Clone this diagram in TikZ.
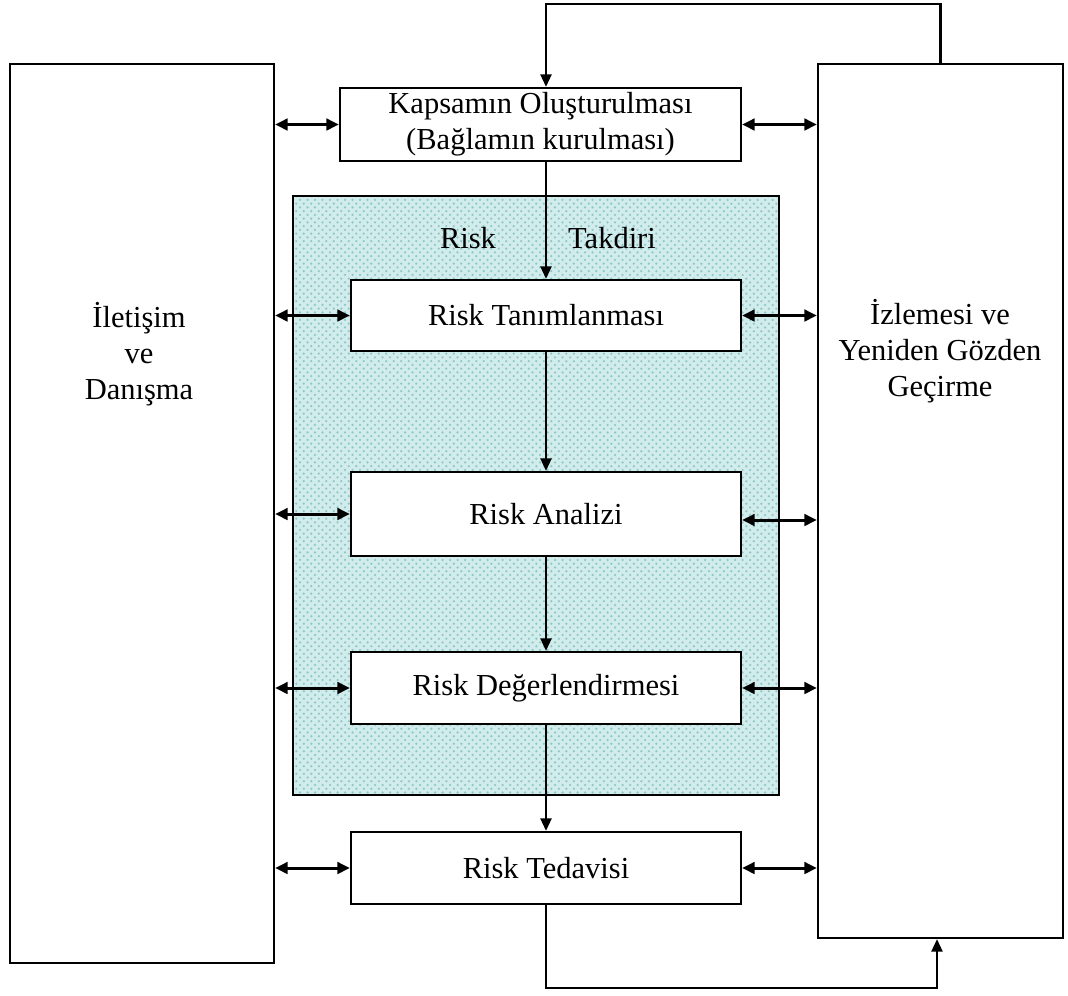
\documentclass[tikz,border=0pt]{standalone}
\usepackage{fontspec}
\setmainfont{Liberation Serif}
\usetikzlibrary{arrows.meta}
\usetikzlibrary{patterns}
\definecolor{takdirrenk}{RGB}{210,236,236}
\definecolor{takdirdesen}{RGB}{140,200,200}

\begin{document}
\begin{tikzpicture}[x=0.4pt,y=-0.4pt,line width=0.9pt,font=\fontsize{12.2}{14.4}\selectfont,
    kutu/.style={draw,fill=white,inner sep=0pt,align=center},
    yazi/.style={inner sep=0pt,align=center},
    tekok/.style={-{Triangle[length=5pt,width=4.4pt]}},
    ciftok/.style={line width=1.2pt,{Triangle[length=5pt,width=4.6pt]}-{Triangle[length=5pt,width=4.6pt]}}]
    \useasboundingbox (0,0) rectangle (1068,995);
    \node[draw,inner sep=0pt,minimum width=194.4pt,minimum height=239.6pt,preaction={fill=takdirrenk},pattern=crosshatch dots,pattern color=takdirdesen] (takdir) at (536,495.5) {};
    \node[yazi] (takdirA) at (468,238) {Risk};
    \node[yazi] (takdirB) at (612,238) {Takdiri};
    \node[kutu,minimum width=105.6pt,minimum height=359.6pt] (iletisim) at (142,513.5) {};
    \node[yazi] (iletisimyazi) at (139,354) {İletişim\\ve\\Danışma};
    \node[kutu,minimum width=98pt,minimum height=349.6pt] (izleme) at (940.5,501) {};
    \node[yazi] (izlemeyazi) at (940,351) {İzlemesi ve\\Yeniden Gözden\\Geçirme};
    \node[kutu,minimum width=160.4pt,minimum height=29.2pt] (kapsam) at (540.5,124.5) {Kapsamın Oluşturulması\\(Bağlamın kurulması)};
    \node[kutu,minimum width=156pt,minimum height=28.4pt] (tanim) at (546,315.5) {Risk Tanımlanması};
    \node[kutu,minimum width=156pt,minimum height=33.6pt] (analiz) at (546,514) {Risk Analizi};
    \node[kutu,minimum width=156pt,minimum height=28.8pt] (degerl) at (546,688) {Risk Değerlendirmesi};
    \node[kutu,minimum width=156pt,minimum height=28.8pt] (tedavi) at (546,868) {Risk Tedavisi};
    \coordinate (ust) at (546,4);
    \coordinate (alt) at (937,988);
    \coordinate (analizsag) at ([yshift=-2.4pt]analiz.east);
    \draw[tekok] (kapsam.south -| tanim.north) -- (tanim.north);
    \draw[tekok] (tanim.south) -- (analiz.north);
    \draw[tekok] (analiz.south) -- (degerl.north);
    \draw[tekok] (degerl.south) -- (tedavi.north);
    \draw[tekok] (izleme.north) |- (ust) -- (kapsam.north -| ust);
    \draw[tekok] (tedavi.south) |- (alt) -- (izleme.south -| alt);
    \draw[ciftok] (iletisim.east |- kapsam.west) -- (kapsam.west);
    \draw[ciftok] (iletisim.east |- tanim.west) -- (tanim.west);
    \draw[ciftok] (iletisim.east |- analiz.west) -- (analiz.west);
    \draw[ciftok] (iletisim.east |- degerl.west) -- (degerl.west);
    \draw[ciftok] (iletisim.east |- tedavi.west) -- (tedavi.west);
    \draw[ciftok] (kapsam.east) -- (izleme.west |- kapsam.east);
    \draw[ciftok] (tanim.east) -- (izleme.west |- tanim.east);
    \draw[ciftok] (analizsag) -- (izleme.west |- analizsag);
    \draw[ciftok] (degerl.east) -- (izleme.west |- degerl.east);
    \draw[ciftok] (tedavi.east) -- (izleme.west |- tedavi.east);
\end{tikzpicture}
\end{document}
